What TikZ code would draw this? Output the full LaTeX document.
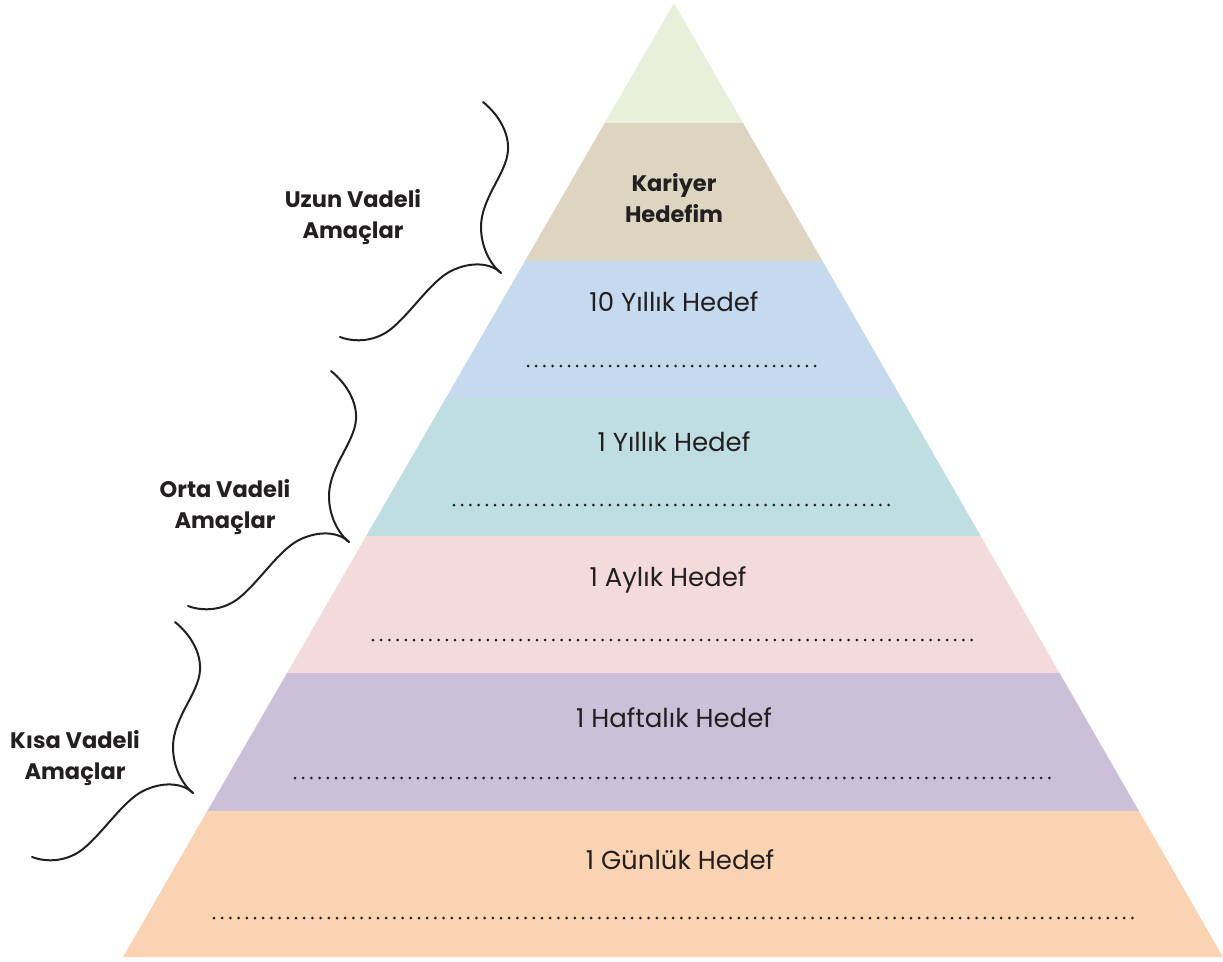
\documentclass[tikz,border=0pt]{standalone}
\usepackage{fontspec}
\setmainfont{Poppins}
\usetikzlibrary{calc}
\definecolor{ctop}{HTML}{E8F0DC}
\definecolor{ckar}{HTML}{DDD5C0}
\definecolor{cten}{HTML}{C6DAEF}
\definecolor{cone}{HTML}{BEDEE1}
\definecolor{cmon}{HTML}{F3DADB}
\definecolor{cwk}{HTML}{CCC0D9}
\definecolor{cday}{HTML}{FAD3B3}
\definecolor{ink}{HTML}{231F20}
\tikzset{
  bracestyle/.style={draw=ink, line width=2pt, line cap=round},
  dotrow/.style={draw=ink, line width=3pt, line cap=round, dash pattern=on 0pt off 8.2pt},
  goal/.style={text=ink, font=\fontsize{26}{30}\selectfont, inner sep=0pt, anchor=center},
  term/.style={text=ink, font=\bfseries\fontsize{22.5}{31}\selectfont, align=center, inner sep=0pt, anchor=center},
}
\newcommand\wavebrace[2]{%
  \begin{scope}[shift={(#1,#2)}]
    \draw[bracestyle] (-18,-171) .. controls (-2,-158) and (8,-140) .. (7,-123)
      .. controls (6,-100) and (-20,-75) .. (-20,-46)
      .. controls (-20,-25) and (-10,-8) .. (0,0);
    \draw[bracestyle] (0,0) .. controls (-10,-10) and (-30,-12) .. (-50,-2)
      .. controls (-70,8) and (-90,40) .. (-110,56)
      .. controls (-125,68) and (-145,70) .. (-161,64);
  \end{scope}}
\begin{document}
\begin{tikzpicture}[x=1pt,y=-1pt]
\useasboundingbox (0,0) rectangle (1223,961);
\coordinate (apex) at (674,3);
\coordinate (bl) at (123,957);
\coordinate (br) at (1223,957);
\begin{scope}
  \clip (apex) -- (bl) -- (br) -- cycle;
  \fill[ctop] (0,0) rectangle (1223,123);
  \fill[ckar] (0,123) rectangle (1223,261);
  \fill[cten] (0,261) rectangle (1223,398);
  \fill[cone] (0,398) rectangle (1223,536);
  \fill[cmon] (0,536) rectangle (1223,673);
  \fill[cwk] (0,673) rectangle (1223,811);
  \fill[cday] (0,811) rectangle (1223,958);
\end{scope}
% texts
\node[term] (kariyer) at (674,198) {Kariyer\\Hedefim};
\node[goal] (g10) at (674,302) {10 Yıllık Hedef};
\node[goal] (g1y) at (674,442) {1 Yıllık Hedef};
\node[goal] (g1a) at (668,580) {1 Aylık Hedef};
\node[goal] (g1h) at (674,718) {1 Haftalık Hedef};
\node[goal] (g1g) at (680,860) {1 Günlük Hedef};
% dotted lines
\draw[dotrow] (528,366) -- (820,366);
\draw[dotrow] (454,505) -- (893,505);
\draw[dotrow] (373,640) -- (975,640);
\draw[dotrow] (295,778) -- (1054,778);
\draw[dotrow] (214,918) -- (1136,918);
% labels
\node[term] (uzun) at (353,217) {Uzun Vadeli\\Amaçlar};
\node[term] (orta) at (225,507) {Orta Vadeli\\Amaçlar};
\node[term] (kisa) at (75,758) {Kısa Vadeli\\Amaçlar};
% braces
\wavebrace{501}{273}
\wavebrace{349}{542}
\wavebrace{193}{793}
\end{tikzpicture}
\end{document}
